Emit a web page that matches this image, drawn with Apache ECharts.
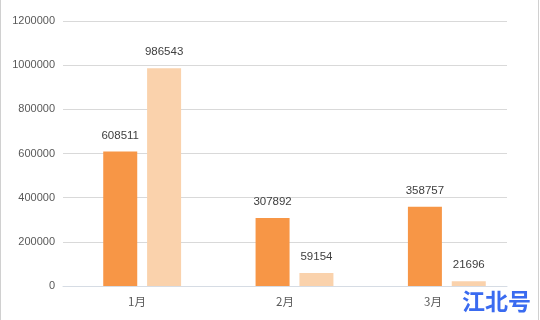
<!DOCTYPE html>
<html><head><meta charset="utf-8">
<script src="https://cdn.jsdelivr.net/npm/echarts@6/dist/echarts.min.js"></script>
<style>html,body{margin:0;padding:0;background:#fff}#c{width:540px;height:320px}</style>
</head><body><div id="c"></div>
<script>
const categories = ['1月', '2月', '3月'];
const series1 = [608511, 307892, 358757];
const series2 = [986543, 59154, 21696];
const yTicks = [0, 200000, 400000, 600000, 800000, 1000000, 1200000];
const watermark = '江北号';

const chart = echarts.init(document.getElementById('c'), null, {renderer: 'canvas'});
const yMin = yTicks[0], yMax = yTicks[yTicks.length - 1];
const lbl = {show: true, position: 'top', color: '#404040', fontSize: 11.5, distance: 10, fontFamily: 'Liberation Sans'};
chart.setOption({
  animation: false,
  grid: [
    {left: 63, right: 33, top: 21, bottom: 34},
    {left: 66, right: 17, top: 21, bottom: 34}
  ],
  xAxis: [
    {
      type: 'category', data: categories, gridIndex: 0,
      axisLine: {lineStyle: {color: '#D6DCE4', width: 1}},
      axisTick: {show: false},
      axisLabel: {color: '#595959', fontSize: 11.5, margin: 10, fontFamily: 'Noto Sans CJK SC'}
    },
    {type: 'category', data: categories, gridIndex: 1, show: false}
  ],
  yAxis: [
    {
      type: 'value', min: yMin, max: yMax, interval: 200000, gridIndex: 0,
      axisLine: {show: false}, axisTick: {show: false},
      axisLabel: {color: '#595959', fontSize: 11, margin: 8, fontFamily: 'Liberation Sans', formatter: v => String(v)},
      splitLine: {lineStyle: {color: '#D9D9D9'}}
    },
    {type: 'value', min: yMin, max: yMax, interval: 200000, gridIndex: 1, show: false, splitLine: {show: false}}
  ],
  series: [
    {type: 'bar', data: series1, xAxisIndex: 1, yAxisIndex: 1, barWidth: 34, barGap: '29%', itemStyle: {color: '#F79646'}, label: lbl},
    {type: 'bar', data: series2, xAxisIndex: 1, yAxisIndex: 1, barWidth: 34, itemStyle: {color: '#FAD2AC'}, label: lbl}
  ],
  graphic: [
    {type: 'rect', shape: {x: 0.5, y: -1, width: 538, height: 330}, style: {fill: 'none', stroke: '#D0D0D0', lineWidth: 1}},
    {type: 'text', right: 9, bottom: 7, style: {text: watermark, fill: '#3A6BF0', font: 'bold 23px "Noto Sans CJK SC"'}}
  ]
});
</script></body></html>
